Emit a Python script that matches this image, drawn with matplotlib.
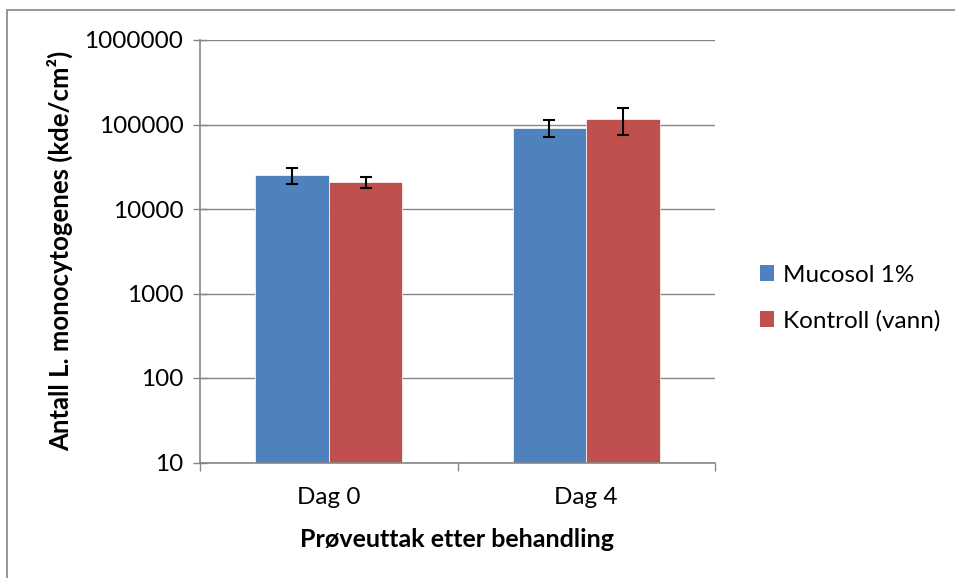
import numpy as np
import matplotlib.pyplot as plt
from matplotlib.patches import Patch, Rectangle

plt.rcParams['font.family'] = ['Lato', 'DejaVu Sans']

categories = ["Dag 0", "Dag 4"]
series_names = ["Mucosol 1%", "Kontroll (vann)"]
mucosol = [25300, 91600]
mucosol_err = [5500, 20700]
kontroll = [20700, 116000]
kontroll_err = [3200, 40000]
yticks = [10, 100, 1000, 10000, 100000, 1000000]

blue = "#4F81BD"
red = "#C0504D"
grid = "#868686"

fig = plt.figure(figsize=(9.55, 5.78), dpi=100)
ax = fig.add_axes([200 / 955, 1 - 462.5 / 578, 515 / 955, 422.5 / 578])

# outer chart border (only left and top show)
fig.patches.append(Rectangle((7 / 955, -0.1), 2, 1 - 10 / 578 + 0.1,
                             transform=fig.transFigure, fill=False,
                             edgecolor=grid, linewidth=1.2))

x = np.arange(len(categories))
w = 0.2855
ax.bar(x - w / 2, mucosol, w, color=blue, edgecolor="white", linewidth=0.5,
       zorder=2)
ax.bar(x + w / 2, kontroll, w, color=red, edgecolor="white", linewidth=0.5,
       zorder=2)
err_kw = dict(fmt="none", ecolor="black", elinewidth=1.5, capsize=4.5,
              capthick=1.5, zorder=3)
ax.errorbar(x - w / 2, mucosol, yerr=mucosol_err, **err_kw)
ax.errorbar(x + w / 2, kontroll, yerr=kontroll_err, **err_kw)

ax.set_yscale("log")
ax.set_ylim(10, 1000000)
ax.set_xlim(-0.5, 1.5)
ax.set_yticks(yticks)
ax.set_yticklabels([str(v) for v in yticks])
ax.yaxis.set_minor_locator(plt.NullLocator())
ax.yaxis.grid(True, color=grid, linewidth=1, zorder=0)
ax.set_axisbelow(True)

# category boundary ticks on x
ax.set_xticks([-0.5, 0.5, 1.5])
ax.set_xticklabels([])
ax.set_xticks(x, minor=True)
ax.set_xticklabels(categories, minor=True, fontsize=17.5)
ax.tick_params(axis="x", which="major", length=6, color=grid, width=1)
ax.tick_params(axis="x", which="minor", length=0, pad=18)
ax.tick_params(axis="y", direction="inout", length=10, color=grid, width=1,
               labelsize=17.5, pad=7)

for s in ["top", "right"]:
    ax.spines[s].set_visible(False)
for s in ["left", "bottom"]:
    ax.spines[s].set_color(grid)
    ax.spines[s].set_linewidth(1.2)

ax.set_ylabel("Antall L. monocytogenes (kde/cm²)", fontsize=18.5,
              fontweight="bold", labelpad=8)
ax.set_xlabel("Prøveuttak etter behandling", fontsize=18,
              fontweight="bold", labelpad=14)

handles = [Patch(facecolor=blue, label=series_names[0]),
           Patch(facecolor=red, label=series_names[1])]
fig.legend(handles=handles, loc="center left",
           bbox_to_anchor=(738 / 955, 1 - 298 / 578), frameon=False,
           fontsize=17.5, handlelength=0.6, handleheight=0.6,
           handletextpad=0.35, labelspacing=1.0)

fig.savefig("out.png", dpi=100)
